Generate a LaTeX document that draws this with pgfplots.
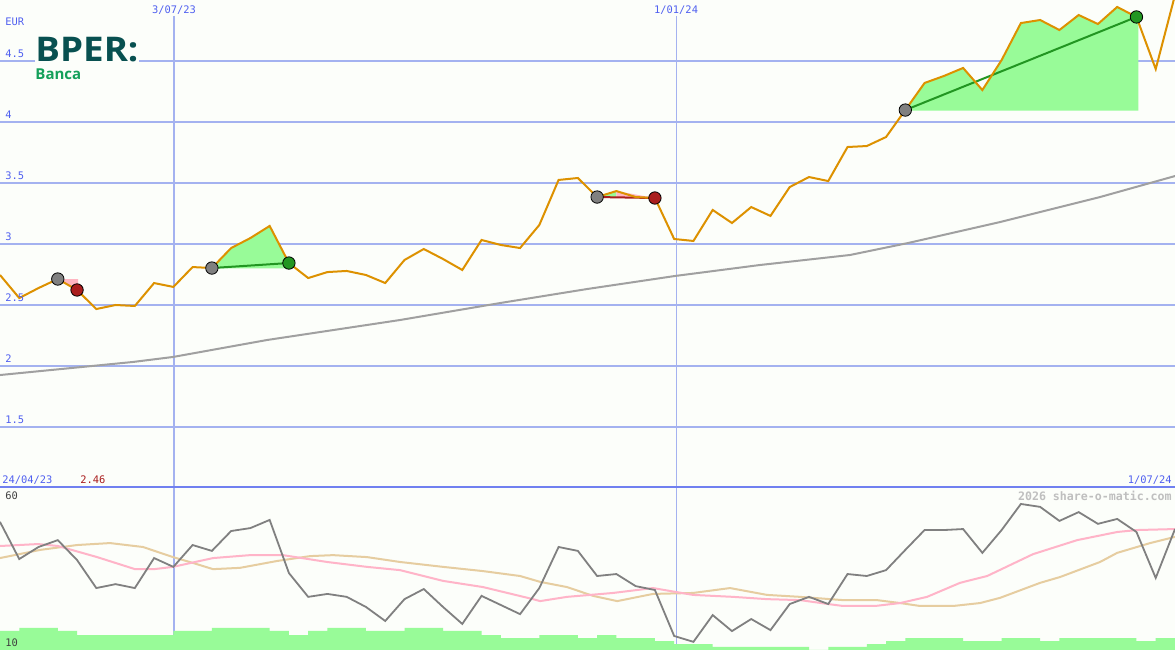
\documentclass[border=0pt]{standalone}
\usepackage{fontspec}
\setmainfont{DejaVu Sans Mono}
\newfontfamily\logofont{Open Sans}
\usepackage{pgfplots}
\usepackage{pgfplotstable}
\pgfplotsset{compat=1.18}

\definecolor{bg}{RGB}{252,254,250}
\definecolor{gridblue}{RGB}{164,178,240}
\definecolor{sepblue}{RGB}{112,128,240}
\definecolor{lblblue}{RGB}{80,96,240}
\definecolor{priceorange}{RGB}{221,145,0}
\definecolor{magray}{RGB}{160,160,160}
\definecolor{fillgreen}{RGB}{152,251,152}
\definecolor{fillpink}{RGB}{255,182,193}
\definecolor{tradegreen}{RGB}{34,150,34}
\definecolor{tradered}{RGB}{170,30,30}
\definecolor{dotgray}{RGB}{128,128,128}
\definecolor{oscgray}{RGB}{128,128,128}
\definecolor{oscpink}{RGB}{255,180,200}
\definecolor{osctan}{RGB}{230,205,160}
\definecolor{logoteal}{RGB}{8,80,80}
\definecolor{bancagreen}{RGB}{20,160,90}

% weekly closes, EUR (week 0 = left edge)
\pgfplotstableread{
wk price
0 2.746
1 2.557
2 2.639
3 2.713
4 2.623
5 2.467
6 2.500
7 2.492
8 2.680
9 2.648
10 2.811
11 2.803
12 2.967
13 3.049
14 3.148
15 2.844
16 2.721
17 2.770
18 2.779
19 2.746
20 2.680
21 2.869
22 2.959
23 2.877
24 2.787
25 3.033
26 2.992
27 2.967
28 3.156
29 3.525
30 3.541
31 3.385
32 3.434
33 3.385
34 3.377
35 3.041
36 3.025
37 3.279
38 3.172
39 3.303
40 3.230
41 3.467
42 3.549
43 3.516
44 3.795
45 3.803
46 3.877
47 4.098
48 4.320
49 4.377
50 4.443
51 4.262
52 4.508
53 4.811
54 4.836
55 4.754
56 4.877
57 4.803
58 4.943
59 4.861
60 4.434
61 5.040
}\price

% long moving average
\pgfplotstableread{
wk ma
0 1.926
6.9 2.033
8.98 2.074
13.86 2.213
20.77 2.377
25.96 2.516
30.48 2.631
35.05 2.738
39.46 2.828
44.13 2.910
47.14 3.008
51.92 3.180
57.11 3.385
61 3.557
}\mavg

% oscillator
\pgfplotstableread{
wk v
0 49.3
1 37.9
2 41.6
3 43.7
4 37.6
5 29.0
6 30.2
7 29.0
8 38.2
9 35.5
10 42.2
11 40.4
12 46.5
13 47.4
14 49.9
15 33.6
16 26.3
17 27.2
18 26.3
19 23.2
20 18.9
21 25.6
22 28.7
23 23.2
24 18.0
25 26.6
26 23.8
27 21.0
28 29.0
29 41.6
30 40.4
31 32.7
32 33.3
33 29.6
34 28.4
35 14.3
36 12.5
37 20.7
38 15.8
39 19.5
40 16.1
41 24.1
42 26.3
43 24.1
44 33.3
45 32.7
46 34.5
47 40.7
48 46.8
49 46.8
50 47.1
51 39.8
52 46.8
53 54.8
54 53.9
55 49.6
56 52.3
57 48.7
58 50.2
59 46.2
60 32.1
61 47.1
}\osc

\pgfplotstableread{
wk v
0 41.9
1.97 42.5
3.01 41.9
5.04 38.5
7.01 34.8
8.0 34.8
8.98 35.5
11.06 38.2
12.98 39.1
14.69 39.1
16.98 37.0
19.05 35.5
20.77 34.5
23.0 31.2
25.08 29.3
27.67 25.6
28.04 25.0
29.44 26.3
31.83 27.5
33.9 29.0
35.98 26.9
38.06 26.3
39.82 25.6
41.54 25.3
42.99 24.1
43.77 23.5
45.43 23.5
46.73 24.4
48.13 26.3
49.84 30.6
51.25 32.7
53.63 39.4
55.92 43.7
58.0 46.2
59.03 46.8
61 47.1
}\oscpink

\pgfplotstableread{
wk v
0 38.2
2.08 40.7
4.0 42.2
5.71 42.8
7.42 41.6
8.98 38.5
10.02 36.7
11.06 34.8
12.46 35.2
14.38 37.3
16.1 38.8
17.29 39.1
19.05 38.5
20.77 37.0
23.0 35.5
25.08 34.2
27.0 32.7
28.04 30.9
29.44 29.3
30.79 26.6
32.04 25.0
33.9 27.2
35.98 27.5
37.9 29.0
39.82 26.9
41.54 26.3
43.77 25.3
45.53 25.3
46.73 24.4
47.77 23.5
49.48 23.5
50.88 24.4
51.92 26.0
54.0 30.6
55.04 32.4
57.11 37.0
58.0 39.8
59.71 42.8
61 44.7
}\osctan

\tikzset{lbl/.style={inner sep=0pt, text=lblblue, font=\fontsize{5.2}{5.2}\selectfont}}

\begin{document}
\begin{tikzpicture}
\begin{axis}[
    name=up,
    at={(0,0)}, anchor=south west,
    scale only axis,
    width=587.5pt, height=243.5pt,
    xmin=0, xmax=61, ymin=1.0082, ymax=5,
    axis line style={draw=none},
    ticks=none,
    axis background/.style={fill=bg},
]
\pgfplotsinvokeforeach{1.5,2,2.5,3,3.5,4,4.5}{
  \draw[gridblue, line width=1pt] (axis cs:0,#1) -- (axis cs:61,#1);
}
\draw[gridblue, line width=1pt] (axis cs:9.03,4.87) -- (axis cs:9.03,1.0082);
\draw[gridblue, line width=0.5pt] (axis cs:35.1,4.87) -- (axis cs:35.1,1.0082);
\fill[bg] (axis cs:1.80,4.48) rectangle (axis cs:7.22,4.52);
\node[anchor=base west, inner sep=0pt, text=logoteal, font=\logofont\bfseries\fontsize{17}{17}\selectfont] at (axis cs:1.82,4.495) {\scalebox{1.08}[1]{BPER:}};
\node[anchor=base west, inner sep=0pt, text=bancagreen, font=\logofont\bfseries\fontsize{7.5}{7.5}\selectfont] at (axis cs:1.82,4.345) {Banca};

% trade areas
\addplot[fill=fillpink, draw=none] coordinates {(3,2.713) (4.05,2.713) (4.05,2.623) (3,2.713)} -- cycle;
\addplot[fill=fillgreen, draw=none] coordinates {(11,2.803) (12,2.967) (13,3.049) (14,3.148) (15,2.844) (15,2.800) (11,2.800)} -- cycle;
\addplot[fill=fillgreen, draw=none] coordinates {(31,3.385) (32,3.434) (32,3.385)} -- cycle;
\addplot[fill=fillpink, draw=none] coordinates {(32,3.434) (34,3.377) (32,3.385)} -- cycle;
\addplot[fill=fillgreen, draw=none] coordinates {(47,4.098) (48,4.320) (49,4.377) (50,4.443) (51,4.262) (52,4.508) (53,4.811) (54,4.836) (55,4.754) (56,4.877) (57,4.803) (58,4.943) (59,4.861) (59.1,4.861) (59.1,4.093) (47,4.093)} -- cycle;

\addplot[magray, line width=1pt] table[x=wk, y=ma] {\mavg};

\addplot[tradegreen, line width=1pt] coordinates {(11,2.803) (15,2.844)};
\addplot[tradegreen, line width=1pt] coordinates {(47,4.098) (59,4.861)};
\addplot[tradered, line width=1pt] coordinates {(31,3.385) (34,3.377)};

\addplot[only marks, mark=*, mark size=3.1pt, mark options={draw=none, fill=dotgray}] coordinates {(3,2.713) (11,2.803) (31,3.385) (47,4.098)};
\addplot[only marks, mark=*, mark size=3.1pt, mark options={draw=none, fill=tradered}] coordinates {(4,2.623) (34,3.377)};
\addplot[only marks, mark=*, mark size=3.1pt, mark options={draw=none, fill=tradegreen}] coordinates {(15,2.844) (59,4.861)};

\addplot[priceorange, line width=1pt] table[x=wk, y=price] {\price};

\node[lbl, anchor=base west] at (axis cs:0.26,4.787) {EUR};
\node[lbl, anchor=base west] at (axis cs:0.26,4.525) {4.5};
\node[lbl, anchor=base west] at (axis cs:0.26,4.025) {4};
\node[lbl, anchor=base west] at (axis cs:0.26,3.525) {3.5};
\node[lbl, anchor=base west] at (axis cs:0.26,3.025) {3};
\node[lbl, anchor=base west] at (axis cs:0.26,2.525) {2.5};
\node[lbl, anchor=base west] at (axis cs:0.26,2.025) {2};
\node[lbl, anchor=base west] at (axis cs:0.26,1.525) {1.5};
\node[lbl, anchor=base] at (axis cs:9.03,4.893) {3/07/23};
\node[lbl, anchor=base] at (axis cs:35.1,4.893) {1/01/24};
\node[lbl, anchor=base west] at (axis cs:0.1,1.041) {24/04/23};
\node[lbl, anchor=base west, text=tradered] at (axis cs:4.15,1.041) {2.46};
\node[lbl, anchor=base east] at (axis cs:60.85,1.041) {1/07/24};
\draw[sepblue, line width=1pt] (rel axis cs:0,0) -- (rel axis cs:1,0);
\end{axis}

\begin{axis}[
    name=low,
    at={(0,0)}, anchor=north west,
    scale only axis,
    width=587.5pt, height=81.5pt,
    xmin=0, xmax=61, ymin=10, ymax=60,
    axis line style={draw=none},
    ticks=none,
    axis background/.style={fill=bg},
]
\draw[gridblue, line width=1pt] (axis cs:9.03,60) -- (axis cs:9.03,10);
\draw[gridblue, line width=0.5pt] (axis cs:35.1,60) -- (axis cs:35.1,10);
\addplot[const plot, fill=fillgreen, draw=none] coordinates {
  (0,15.83) (1,16.75) (3,15.83) (4,14.60) (9,15.83) (11,16.75) (14,15.83)
  (15,14.60) (16,15.83) (17,16.75) (19,15.83) (21,16.75) (23,15.83) (25,14.60)
  (26,13.68) (28,14.60) (30,13.68) (31,14.60) (32,13.68) (34,12.76) (35,11.84)
  (37,10.92) (42,10.0) (43,10.92) (45,11.84) (46,12.76) (47,13.68) (50,12.76)
  (52,13.68) (54,12.76) (55,13.68) (59,12.76) (60,13.68) (61,13.68)
} \closedcycle;
\addplot[osctan, line width=1pt] table[x=wk, y=v] {\osctan};
\addplot[oscpink, line width=1pt] table[x=wk, y=v] {\oscpink};
\addplot[oscgray, line width=0.9pt] table[x=wk, y=v] {\osc};
\node[lbl, anchor=base west, text=black!75] at (axis cs:0.26,56.3) {60};
\node[lbl, anchor=base west, text=black!75] at (axis cs:0.26,11.2) {10};
\node[inner sep=0pt, anchor=base east, text=black!25, font=\bfseries\fontsize{5.8}{5.8}\selectfont] at (axis cs:60.85,56.0) {2026 share-o-matic.com};
\draw[sepblue, line width=1pt] (rel axis cs:0,1) -- (rel axis cs:1,1);
\end{axis}
\pgfresetboundingbox
\path[use as bounding box] (0,-81.5pt) rectangle (587.5pt,243.5pt);
\end{tikzpicture}
\end{document}
